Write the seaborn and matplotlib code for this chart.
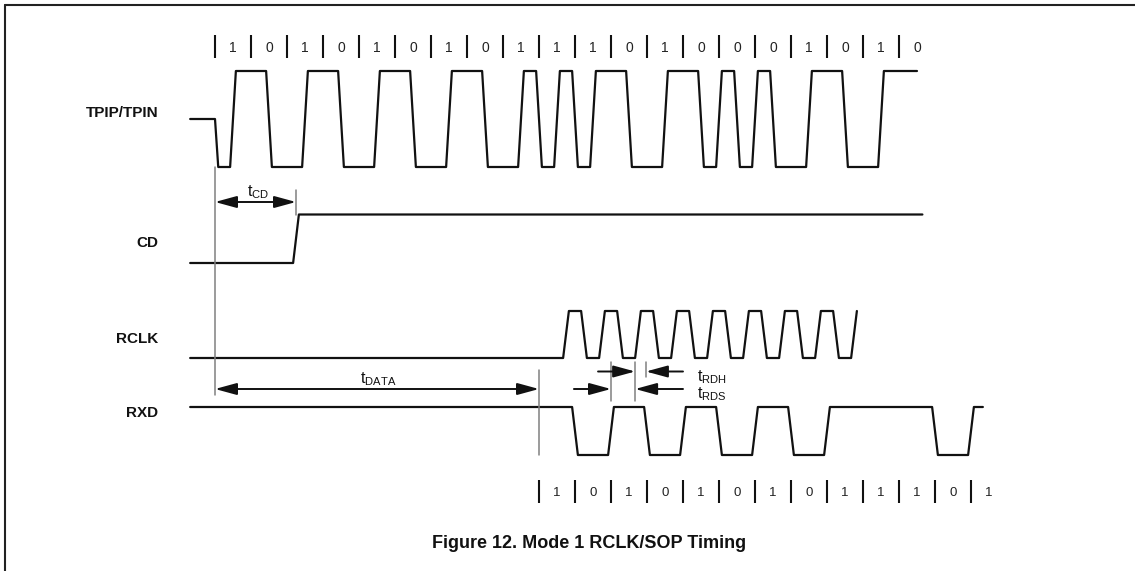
import numpy as np
import pandas as pd
import matplotlib
matplotlib.use("Agg")
import matplotlib.pyplot as plt
import seaborn as sns
from matplotlib.lines import Line2D
from matplotlib.patches import ArrowStyle

# ---------------- data (time in bit periods, t=0 at carrier start) ----------------
signal_names = ["TPIP/TPIN", "CD", "RCLK", "RXD"]
tx_bits = [1, 0, 1, 0, 1, 0, 1, 0, 1, 1, 1, 0, 1, 0, 0, 0, 1, 0, 1, 0]
rxd_bits = [1, 0, 1, 0, 1, 0, 1, 0, 1, 1, 1, 0, 1]
t_start = -0.69          # left end of all traces
tx_end = 19.5            # TPIP trace ends
cd_rise = 2.25           # CD assertion
cd_end = 19.65
rclk_first_rise = 9.75
rclk_rises = 9
rxd_start = 9.0
rxd_end = 21.33
edge = 0.08              # half edge width
t_cd = [0.0, 2.25]
t_data = [0.0, 9.0]
t_rds = [11.0, 11.67]
t_rdh = [11.67, 11.97]
title = "Figure 12. Mode 1 RCLK/SOP Timing"

# ---------------- layout ----------------
W, H = 1135, 571
PX0, PXB = 215.0, 36.0   # pixel of t=0, pixels per bit


def tp(px):
    return (px - PX0) / PXB


TX_HI, TX_LO, TX_MID = 71, 167, 119
CD_LO, CD_HI = 263, 214.5
CK_LO, CK_HI = 358, 311
RX_HI, RX_LO = 407, 455

sns.set_style("white")
plt.rcParams["font.family"] = ["Liberation Sans", "DejaVu Sans"]
plt.rcParams["mathtext.fontset"] = "custom"
plt.rcParams["mathtext.rm"] = "Liberation Sans"
plt.rcParams["mathtext.it"] = "Liberation Sans:italic"

fig = plt.figure(figsize=(W / 100, H / 100), dpi=100)
ax = fig.add_axes([0, 0, 1, 1])

# ---------------- waveforms ----------------
# TPIP/TPIN Manchester (1 = low->high in the middle)
halves = []
for b in tx_bits:
    halves += [1 - b, b]
lv = lambda h: TX_HI if h else TX_LO
tx = [(t_start, TX_MID), (0.0, TX_MID), (0.09, lv(halves[0]))]
for i in range(1, len(halves)):
    tc = i * 0.5
    if tc >= tx_end - edge:
        break
    if halves[i] != halves[i - 1]:
        tx += [(tc - edge, lv(halves[i - 1])), (tc + edge, lv(halves[i]))]
tx.append((tx_end, tx[-1][1]))

cd = [(t_start, CD_LO), (cd_rise - edge, CD_LO), (cd_rise + edge, CD_HI), (cd_end, CD_HI)]

ck = [(t_start, CK_LO)]
for k in range(rclk_rises):
    r = rclk_first_rise + k
    ck += [(r - edge, CK_LO), (r + edge, CK_HI)]
    if k < rclk_rises - 1:
        f = r + 0.5
        ck += [(f - edge, CK_HI), (f + edge, CK_LO)]

rlv = lambda b: RX_HI if b else RX_LO
rx = [(t_start, RX_HI)]
prev = 1
for i, b in enumerate(rxd_bits):
    tb = rxd_start + i
    if b != prev:
        rx += [(tb - edge, rlv(prev)), (tb + edge, rlv(b))]
    prev = b
rx.append((rxd_end, rlv(prev)))

frames = []
for name, pts in zip(signal_names, [tx, cd, ck, rx]):
    d = pd.DataFrame(pts, columns=["t", "y"])
    d["signal"] = name
    frames.append(d)
df = pd.concat(frames, ignore_index=True)
for name in signal_names:
    sns.lineplot(data=df[df.signal == name], x="t", y="y", sort=False,
                 estimator=None, color="#111111", lw=1.6, ax=ax)
ax.set_xlim(tp(0), tp(W))
ax.set_ylim(H, 0)
ax.axis("off")

# signal labels
for name, yy in zip(signal_names, [113, 243, 339, 413]):
    ax.text(tp(158), yy, name, ha="right", va="center", fontsize=11,
            fontweight="bold", color="#111111")

# bit markers
def bit_row(bits, t0, ybar0, ybar1, ylab, fs):
    for i, b in enumerate(bits):
        ax.plot([t0 + i, t0 + i], [ybar0, ybar1], color="#111111", lw=1.5,
                solid_capstyle="butt")
        ax.text(t0 + i + 0.5, ylab, str(b), ha="center", va="center",
                fontsize=fs, color="#222222")


bit_row(tx_bits, 0.0, 35, 58, 48, 10)
bit_row(rxd_bits, rxd_start, 480, 503, 493, 9.5)

# gray reference lines
gray = "#808080"
ax.plot([0, 0], [TX_LO, 395], color=gray, lw=1.1)
ax.plot([t_cd[1], t_cd[1]], [190, CD_HI], color=gray, lw=1.1)
ax.plot([t_data[1], t_data[1]], [370, RX_LO], color=gray, lw=1.1)
ax.plot([t_rds[0], t_rds[0]], [362, 401], color=gray, lw=1.1)
ax.plot([t_rds[1], t_rds[1]], [362, 401], color=gray, lw=1.1)
ax.plot([t_rdh[1], t_rdh[1]], [362, 377], color=gray, lw=1.1)

# arrows
both = ArrowStyle("<|-|>", head_length=1.1, head_width=0.3)
one = ArrowStyle("-|>", head_length=1.1, head_width=0.3)
akw = dict(color="#111111", lw=1.4, shrinkA=0, shrinkB=0, mutation_scale=12)


def arrow(x0, x1, y, style):
    ax.annotate("", xy=(x1, y), xytext=(x0, y),
                arrowprops=dict(arrowstyle=style, **akw))


arrow(t_cd[0], t_cd[1], 202, both)
ax.text(np.mean(t_cd) + 0.07, 192, r"$\mathrm{t_{CD}}$", ha="center",
        va="center", fontsize=11.5, color="#111111")
arrow(t_data[0], t_data[1], 389, both)
ax.text(np.mean(t_data) + 0.03, 379, r"$\mathrm{t_{DATA}}$", ha="center",
        va="center", fontsize=11.5, color="#111111")

tail_r = tp(683)
arrow(t_rdh[0] - 1.03, t_rdh[0], 371.5, one)
arrow(tail_r, t_rdh[1], 371.5, one)
arrow(t_rds[0] - 1.03, t_rds[0], 389, one)
arrow(tail_r, t_rds[1], 389, one)
ax.text(tp(697), 377, r"$\mathrm{t_{RDH}}$", ha="left", va="center",
        fontsize=11.5, color="#111111")
ax.text(tp(697), 394, r"$\mathrm{t_{RDS}}$", ha="left", va="center",
        fontsize=11.5, color="#111111")

# title
ax.text(tp(589), 543, title, ha="center", va="center", fontsize=13,
        fontweight="bold", color="#111111")

# frame (top and left edges)
fig.add_artist(Line2D([5 / W, 1], [1 - 5 / H, 1 - 5 / H], color="#222222",
                      lw=1.5, transform=fig.transFigure))
fig.add_artist(Line2D([5 / W, 5 / W], [0, 1 - 5 / H], color="#222222",
                      lw=1.5, transform=fig.transFigure))

fig.savefig("out.png", dpi=100)
